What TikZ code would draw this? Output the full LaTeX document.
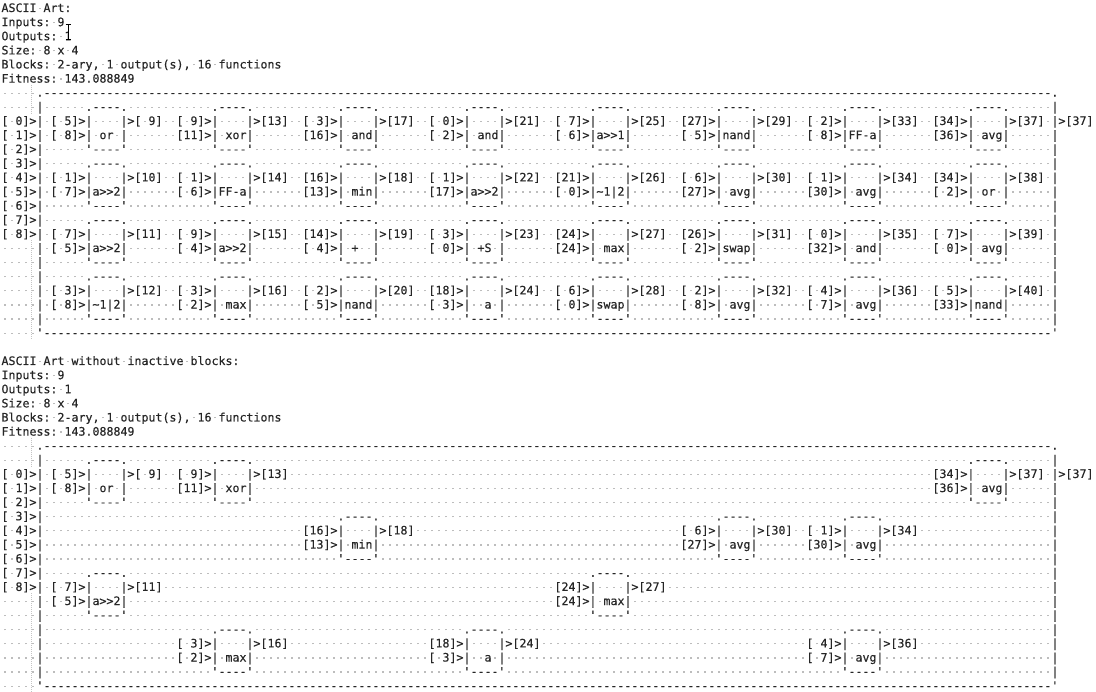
\documentclass[tikz,border=0pt]{standalone}
\usepackage{fontspec}
\setmonofont{DejaVu Sans Mono}[FakeBold=0.4]
\definecolor{dotgray}{HTML}{BDBDBD}
\definecolor{txt}{HTML}{262626}
\definecolor{guidegray}{HTML}{C4C4C4}
\newcommand\vsp{\hbox to 7pt{\hss\textcolor{dotgray}{\rule[3.0pt]{1.2pt}{1.2pt}}\hss}}
\newcommand\vbar{\hbox to 7pt{\hss\textcolor{txt}{\rule[-2.6pt]{0.9pt}{14.12pt}}\hss}}
\begingroup
\catcode`\ =13\catcode`\~=12\catcode`\|=13\relax%
\gdef {\vsp}%
\gdef|{\vbar}%
\gdef\Ss{      }%
\gdef\Dx{------------}%
\gdef\Dl{\Dx\Dx\Dx\Dx\Dx\Dx\Dx\Dx\Dx\Dx\Dx\Dx}%
\gdef\Tp{     .\Dl.}%
\gdef\Bm{     '\Dl'}%
\gdef\Q{     |}%
\gdef\P#1{[ #1]>|}%
\gdef\Bt{\Ss.----.\Ss}%
\gdef\Bb{\Ss'----'\Ss}%
\gdef\Bn{\Ss\Ss\Ss}%
\gdef\Bi#1#2{ #1>|    |>#2 }%
\gdef\Bf#1#2{ #1>|#2|\Ss}%
\gdef\Rt{\Bt\Bt\Bt\Bt\Bt\Bt\Bt\Bt|}%
\gdef\Rb{\Bb\Bb\Bb\Bb\Bb\Bb\Bb\Bb|}%
\gdef\LinesA{%
\Ln{0}{ASCII Art:}%
\Ln{1}{Inputs: 9}%
\Ln{2}{Outputs: 1}%
\Ln{3}{Size: 8 x 4}%
\Ln{4}{Blocks: 2-ary, 1 output(s), 16 functions}%
\Ln{5}{Fitness: 143.088849}%
\Ln{6}{\Tp}%
\Ln{7}{\Q\Rt}%
\Ln{8}{\P{0}\Bi{[ 5]}{[ 9]}\Bi{[ 9]}{[13]}\Bi{[ 3]}{[17]}\Bi{[ 0]}{[21]}\Bi{[ 7]}{[25]}\Bi{[27]}{[29]}\Bi{[ 2]}{[33]}\Bi{[34]}{[37]}|>[37]}%
\Ln{9}{\P{1}\Bf{[ 8]}{ or }\Bf{[11]}{ xor}\Bf{[16]}{ and}\Bf{[ 2]}{ and}\Bf{[ 6]}{a>>1}\Bf{[ 5]}{nand}\Bf{[ 8]}{FF-a}\Bf{[36]}{ avg}|}%
\Ln{10}{\P{2}\Rb}%
\Ln{11}{\P{3}\Rt}%
\Ln{12}{\P{4}\Bi{[ 1]}{[10]}\Bi{[ 1]}{[14]}\Bi{[16]}{[18]}\Bi{[ 1]}{[22]}\Bi{[21]}{[26]}\Bi{[ 6]}{[30]}\Bi{[ 1]}{[34]}\Bi{[34]}{[38]}|}%
\Ln{13}{\P{5}\Bf{[ 7]}{a>>2}\Bf{[ 6]}{FF-a}\Bf{[13]}{ min}\Bf{[17]}{a>>2}\Bf{[ 0]}{~1|2}\Bf{[27]}{ avg}\Bf{[30]}{ avg}\Bf{[ 2]}{ or }|}%
\Ln{14}{\P{6}\Rb}%
\Ln{15}{\P{7}\Rt}%
\Ln{16}{\P{8}\Bi{[ 7]}{[11]}\Bi{[ 9]}{[15]}\Bi{[14]}{[19]}\Bi{[ 3]}{[23]}\Bi{[24]}{[27]}\Bi{[26]}{[31]}\Bi{[ 0]}{[35]}\Bi{[ 7]}{[39]}|}%
\Ln{17}{\Q\Bf{[ 5]}{a>>2}\Bf{[ 4]}{a>>2}\Bf{[ 4]}{ +  }\Bf{[ 0]}{ +S }\Bf{[24]}{ max}\Bf{[ 2]}{swap}\Bf{[32]}{ and}\Bf{[ 0]}{ avg}|}%
\Ln{18}{\Q\Rb}%
\Ln{19}{\Q\Rt}%
\Ln{20}{\Q\Bi{[ 3]}{[12]}\Bi{[ 3]}{[16]}\Bi{[ 2]}{[20]}\Bi{[18]}{[24]}\Bi{[ 6]}{[28]}\Bi{[ 2]}{[32]}\Bi{[ 4]}{[36]}\Bi{[ 5]}{[40]}|}%
\Ln{21}{\Q\Bf{[ 8]}{~1|2}\Bf{[ 2]}{ max}\Bf{[ 5]}{nand}\Bf{[ 3]}{  a }\Bf{[ 0]}{swap}\Bf{[ 8]}{ avg}\Bf{[ 7]}{ avg}\Bf{[33]}{nand}|}%
\Ln{22}{\Q\Rb}%
\Ln{23}{\Bm}%
}%
\gdef\LinesB{%
\Ln{25}{ASCII Art without inactive blocks:}%
\Ln{26}{Inputs: 9}%
\Ln{27}{Outputs: 1}%
\Ln{28}{Size: 8 x 4}%
\Ln{29}{Blocks: 2-ary, 1 output(s), 16 functions}%
\Ln{30}{Fitness: 143.088849}%
\Ln{31}{\Tp}%
\Ln{32}{\Q\Bt\Bt\Bn\Bn\Bn\Bn\Bn\Bt|}%
\Ln{33}{\P{0}\Bi{[ 5]}{[ 9]}\Bi{[ 9]}{[13]}\Bn\Bn\Bn\Bn\Bn\Bi{[34]}{[37]}|>[37]}%
\Ln{34}{\P{1}\Bf{[ 8]}{ or }\Bf{[11]}{ xor}\Bn\Bn\Bn\Bn\Bn\Bf{[36]}{ avg}|}%
\Ln{35}{\P{2}\Bb\Bb\Bn\Bn\Bn\Bn\Bn\Bb|}%
\Ln{36}{\P{3}\Bn\Bn\Bt\Bn\Bn\Bt\Bt\Bn|}%
\Ln{37}{\P{4}\Bn\Bn\Bi{[16]}{[18]}\Bn\Bn\Bi{[ 6]}{[30]}\Bi{[ 1]}{[34]}\Bn|}%
\Ln{38}{\P{5}\Bn\Bn\Bf{[13]}{ min}\Bn\Bn\Bf{[27]}{ avg}\Bf{[30]}{ avg}\Bn|}%
\Ln{39}{\P{6}\Bn\Bn\Bb\Bn\Bn\Bb\Bb\Bn|}%
\Ln{40}{\P{7}\Bt\Bn\Bn\Bn\Bt\Bn\Bn\Bn|}%
\Ln{41}{\P{8}\Bi{[ 7]}{[11]}\Bn\Bn\Bn\Bi{[24]}{[27]}\Bn\Bn\Bn|}%
\Ln{42}{\Q\Bf{[ 5]}{a>>2}\Bn\Bn\Bn\Bf{[24]}{ max}\Bn\Bn\Bn|}%
\Ln{43}{\Q\Bb\Bn\Bn\Bn\Bb\Bn\Bn\Bn|}%
\Ln{44}{\Q\Bn\Bt\Bn\Bt\Bn\Bn\Bt\Bn|}%
\Ln{45}{\Q\Bn\Bi{[ 3]}{[16]}\Bn\Bi{[18]}{[24]}\Bn\Bn\Bi{[ 4]}{[36]}\Bn|}%
\Ln{46}{\Q\Bn\Bf{[ 2]}{ max}\Bn\Bf{[ 3]}{  a }\Bn\Bn\Bf{[ 7]}{ avg}\Bn|}%
\Ln{47}{\Q\Bn\Bb\Bn\Bb\Bn\Bn\Bb\Bn|}%
\Ln{48}{\Bm}%
}%
\endgroup
\tikzset{
  tl/.style={anchor=base west, inner sep=0pt, outer sep=0pt, text=txt,
    font=\ttfamily\fontsize{11.627pt}{14.12pt}\selectfont},
  guide/.style={draw=guidegray, line width=0.8pt, dash pattern=on 1pt off 1pt},
  ibeam/.style={draw=black, line width=1pt}
}
\newcommand\Ln[2]{\node[tl] (l#1) at (1.5,{-12-14.12*#1}) {#2};}
\begin{document}
\begin{tikzpicture}[x=1pt,y=1pt]
\useasboundingbox (0,0) rectangle (1096,-692);
\fill[white] (0,0) rectangle (1096,-692);
\foreach \a/\b in {6/7,17/23,31/32,42/48}
  \draw[guide] (31.5,{-14.12*\a}) -- (31.5,{-14.12*(\b+1)});
\LinesA
\LinesB
\draw[ibeam] (65.5,-24.5) -- (71,-24.5) (68.2,-24.5) -- (68.2,-39.5) (65.5,-39.5) -- (71,-39.5);
\end{tikzpicture}
\end{document}
